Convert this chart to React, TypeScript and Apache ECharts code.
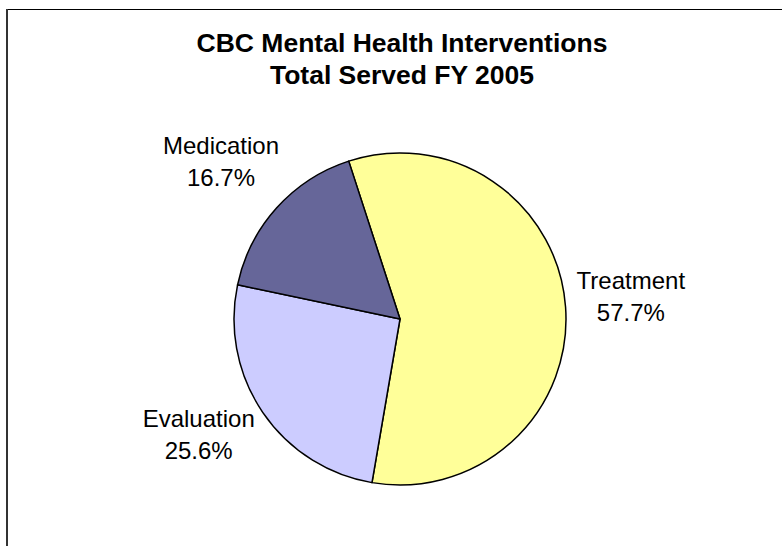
import React, { useEffect, useRef } from "react";
import * as echarts from "echarts";

const titleLines = ["CBC Mental Health Interventions", "Total Served FY 2005"];
const categories = ["Treatment", "Evaluation", "Medication"];
const values = [57.7, 25.6, 16.7];
const colors = ["#FFFF99", "#CCCCFF", "#666699"];

const W = 782;
const H = 546;
const CX = 400;
const CY = 319;
const R = 166;
const START = 108;
const GAP = 4;
const LABEL_NUDGE = [
  [5, -6],
  [-7.5, -16],
  [-4.5, -1],
];
const FONT = "'Liberation Sans', Arial, Helvetica, sans-serif";

export default function App() {
  const ref = useRef<HTMLDivElement>(null);
  useEffect(() => {
    document.body.style.margin = "0";
    if (!ref.current) return;
    const chart = echarts.init(ref.current, null, { renderer: "svg" });
    const total = values.reduce((a, b) => a + b, 0);
    let acc = 0;
    const mids = values.map((v) => {
      const m = START - ((acc + v / 2) / total) * 360;
      acc += v;
      return m;
    });
    chart.setOption({
      animation: false,
      backgroundColor: "#fff",
      title: {
        text: titleLines.join("\n"),
        left: 402,
        textAlign: "center",
        top: 27,
        padding: 0,
        textStyle: {
          fontFamily: FONT,
          fontWeight: "bold",
          fontSize: 26.5,
          lineHeight: 32,
          color: "#000",
        },
      },
      graphic: [
        {
          type: "line",
          shape: { x1: 6, y1: 9.5, x2: W, y2: 9.5 },
          style: { stroke: "#000", lineWidth: 1 },
        },
        {
          type: "line",
          shape: { x1: 7, y1: 9, x2: 7, y2: H },
          style: { stroke: "#333", lineWidth: 2 },
        },
      ],
      series: [
        {
          type: "pie",
          center: [CX, CY],
          radius: R,
          startAngle: START,
          clockwise: true,
          avoidLabelOverlap: false,
          data: categories.map((c, i) => ({
            name: c,
            value: values[i],
            itemStyle: { color: colors[i] },
          })),
          itemStyle: { borderColor: "#000", borderWidth: 1.5 },
          emphasis: { disabled: true },
          label: {
            show: true,
            position: "outside",
            formatter: (p: any) => `${p.name}\n${p.value.toFixed(1)}%`,
            fontFamily: FONT,
            fontSize: 24,
            lineHeight: 32,
            color: "#000",
          },
          labelLine: { show: false },
          labelLayout: (p: any) => {
            const a = (mids[p.dataIndex] * Math.PI) / 180;
            const ux = Math.cos(a);
            const uy = -Math.sin(a);
            const w = p.labelRect.width;
            const h = p.labelRect.height;
            const t = R + GAP + (Math.abs(ux) * w) / 2 + (Math.abs(uy) * h) / 2;
            const n = LABEL_NUDGE[p.dataIndex];
            return {
              x: CX + ux * t + n[0],
              y: CY + uy * t + n[1],
              align: "center",
              verticalAlign: "middle",
            };
          },
        },
      ],
    });
    return () => chart.dispose();
  }, []);
  return <div ref={ref} style={{ width: W, height: H }} />;
}
